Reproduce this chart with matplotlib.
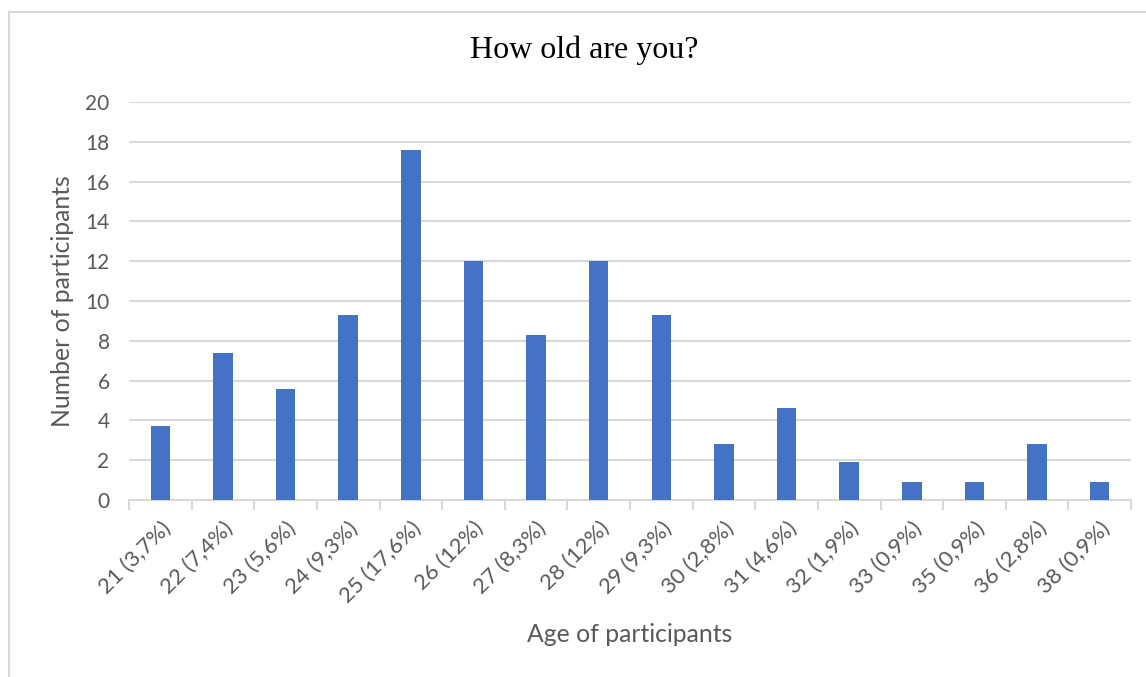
import matplotlib
matplotlib.use("Agg")
import matplotlib.pyplot as plt
from matplotlib.patches import Rectangle
from matplotlib.ticker import FixedLocator, NullFormatter

categories = ["21 (3,7%)", "22 (7,4%)", "23 (5,6%)", "24 (9,3%)", "25 (17,6%)",
              "26 (12%)", "27 (8,3%)", "28 (12%)", "29 (9,3%)", "30 (2,8%)",
              "31 (4,6%)", "32 (1,9%)", "33 (0,9%)", "35 (0,9%)", "36 (2,8%)",
              "38 (0,9%)"]
values = [3.7, 7.4, 5.6, 9.3, 17.6, 12, 8.3, 12, 9.3, 2.8, 4.6, 1.9, 0.9, 0.9, 2.8, 0.9]
y_ticks = [0, 2, 4, 6, 8, 10, 12, 14, 16, 18, 20]

W, H = 1146, 677
fig = plt.figure(figsize=(W / 100, H / 100), dpi=100)
fig.patch.set_facecolor("white")

# outer chart border
fig.patches.append(Rectangle((9 / W, -0.1), 1.2, 1 - 12 / H + 0.1, transform=fig.transFigure,
                             fill=False, edgecolor="#D9D9D9", linewidth=1.5))

ax = fig.add_axes([129 / W, 1 - 500 / H, (1131 - 129) / W, (500 - 102) / H])
x = list(range(len(categories)))
ax.bar(x, values, width=0.31, color="#4472C4", zorder=3)

ax.set_xlim(-0.5, len(categories) - 0.5)
ax.set_ylim(0, 20)
ax.set_yticks(y_ticks)
ax.yaxis.grid(True, color="#D9D9D9", linewidth=1.5, zorder=0)
ax.tick_params(axis="y", length=0, pad=14, labelsize=15, labelcolor="#595959")

ax.set_xticks(x)
ax.set_xticklabels(categories, rotation=45, ha="right", rotation_mode="anchor",
                   fontsize=16, color="#595959")
ax.tick_params(axis="x", which="major", length=0, pad=13)
ax.xaxis.set_minor_locator(FixedLocator([i - 0.5 for i in range(len(categories) + 1)]))
ax.xaxis.set_minor_formatter(NullFormatter())
ax.tick_params(axis="x", which="minor", length=7, width=1.5, color="#D9D9D9")

for s in ["top", "right", "left"]:
    ax.spines[s].set_visible(False)
ax.spines["bottom"].set_color("#D9D9D9")
ax.spines["bottom"].set_linewidth(1.5)

for lbl in ax.get_xticklabels() + ax.get_yticklabels():
    lbl.set_family("Lato")

fig.text(584 / W, 1 - 50 / H, "How old are you?", ha="center", va="center",
         fontsize=23, family="Liberation Serif", color="black")
fig.text(62 / W, 1 - 301 / H, "Number of participants", ha="center", va="center",
         rotation=90, fontsize=17.8, family="Lato", color="#595959")
fig.text(630 / W, 1 - 634 / H, "Age of participants", ha="center", va="center",
         fontsize=17.8, family="Lato", color="#595959")

fig.savefig("out.png", dpi=100)
